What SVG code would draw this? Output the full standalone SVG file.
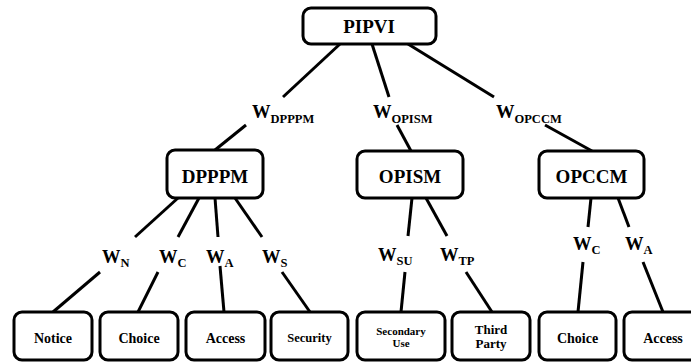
<svg xmlns="http://www.w3.org/2000/svg" width="691" height="364" viewBox="0 0 691 364">
<style>
.box{fill:#fff;stroke:#000;stroke-width:3}
text{font-family:'Liberation Serif','DejaVu Serif',serif;font-weight:bold;fill:#000}
.t{text-anchor:middle}
.big{font-size:19px}
.sm{font-size:14px}
.w{font-size:18.5px}
.sub{font-size:12.5px}
.lines line{stroke:#000;stroke-width:3}
</style>
<g class="lines" id="connectors">
<line x1="340" y1="44" x2="283" y2="97"/>
<line x1="372" y1="44" x2="389" y2="97"/>
<line x1="408" y1="44" x2="494" y2="97"/>
<line x1="246" y1="125" x2="215" y2="150"/>
<line x1="397" y1="125" x2="411" y2="151"/>
<line x1="545" y1="125" x2="592" y2="151"/>
<line x1="178" y1="198" x2="135" y2="237"/>
<line x1="199" y1="198" x2="178" y2="237"/>
<line x1="215" y1="198" x2="218" y2="237"/>
<line x1="235" y1="198" x2="262" y2="237"/>
<line x1="412" y1="198" x2="408" y2="236"/>
<line x1="426" y1="198" x2="447" y2="236"/>
<line x1="591" y1="198" x2="588" y2="227"/>
<line x1="618" y1="198" x2="629" y2="227"/>
<line x1="100" y1="272" x2="53" y2="312"/>
<line x1="158" y1="272" x2="138" y2="312"/>
<line x1="220" y1="266" x2="224" y2="312"/>
<line x1="282" y1="272" x2="310" y2="312"/>
<line x1="405" y1="272" x2="401" y2="312"/>
<line x1="466" y1="272" x2="492" y2="312"/>
<line x1="583" y1="262" x2="578" y2="312"/>
<line x1="643" y1="262" x2="663" y2="312"/>
</g>
<g id="labels">
<text class="w" x="252" y="118">W<tspan class="sub" dy="5">DPPPM</tspan></text>
<text class="w" x="373" y="118">W<tspan class="sub" dy="5">OPISM</tspan></text>
<text class="w" x="496" y="118">W<tspan class="sub" dy="5">OPCCM</tspan></text>
<text class="w" x="102" y="263">W<tspan class="sub" dy="4">N</tspan></text>
<text class="w" x="159" y="263">W<tspan class="sub" dy="4">C</tspan></text>
<text class="w" x="206" y="263">W<tspan class="sub" dy="4">A</tspan></text>
<text class="w" x="262" y="263">W<tspan class="sub" dy="4">S</tspan></text>
<text class="w" x="378" y="261">W<tspan class="sub" dy="4">SU</tspan></text>
<text class="w" x="440" y="261">W<tspan class="sub" dy="4">TP</tspan></text>
<text class="w" x="573" y="250">W<tspan class="sub" dy="4">C</tspan></text>
<text class="w" x="625" y="250">W<tspan class="sub" dy="4">A</tspan></text>
</g>
<g id="PIPVI"><rect class="box" x="303" y="8" width="133" height="36" rx="8"/><text class="t big" x="369" y="33">PIPVI</text></g>
<g id="DPPPM"><rect class="box" x="167" y="150" width="96" height="48" rx="8"/><text class="t big" x="215" y="183">DPPPM</text></g>
<g id="OPISM"><rect class="box" x="357" y="151" width="106" height="47" rx="8"/><text class="t big" x="410" y="183">OPISM</text></g>
<g id="OPCCM"><rect class="box" x="539" y="151" width="105" height="47" rx="8"/><text class="t big" x="591.5" y="183">OPCCM</text></g>
<g id="Notice"><rect class="box" x="14" y="312" width="78" height="48" rx="8"/><text class="t sm" x="53" y="343">Notice</text></g>
<g id="Choice"><rect class="box" x="100" y="312" width="78" height="48" rx="8"/><text class="t sm" x="139" y="343">Choice</text></g>
<g id="Access"><rect class="box" x="186" y="312" width="79" height="48" rx="8"/><text class="t sm" x="225.5" y="343">Access</text></g>
<g id="Security"><rect class="box" x="271" y="312" width="77" height="48" rx="8"/><text class="t" style="font-size:12.5px" x="309.5" y="342">Security</text></g>
<g id="SecondaryUse"><rect class="box" x="357" y="312" width="88" height="48" rx="8"/><text class="t" style="font-size:11px" x="401" y="334.5">Secondary</text><text class="t" style="font-size:11px" x="401" y="347">Use</text></g>
<g id="ThirdParty"><rect class="box" x="452" y="312" width="78" height="48" rx="8"/><text class="t" style="font-size:13px" x="491" y="334">Third</text><text class="t" style="font-size:13px" x="491" y="348">Party</text></g>
<g id="Choice2"><rect class="box" x="539" y="312" width="77" height="48" rx="8"/><text class="t sm" x="577.5" y="343">Choice</text></g>
<g id="Access2"><rect class="box" x="624" y="312" width="78" height="48" rx="8"/><text class="t sm" x="663" y="343">Access</text></g>
</svg>
